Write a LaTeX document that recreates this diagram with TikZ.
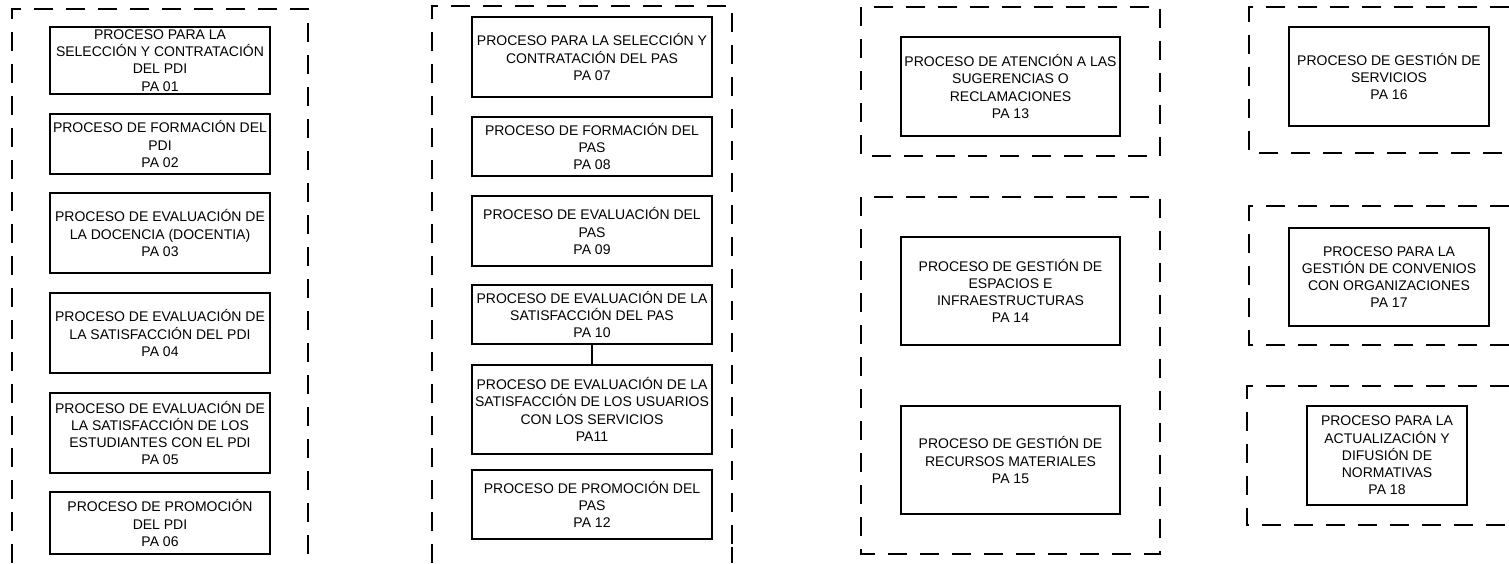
\documentclass[tikz,border=0pt]{standalone}
\usepackage{fontspec}
\setmainfont{Liberation Sans}

\begin{document}
\begin{tikzpicture}[x=1pt,y=-1pt,
    proc/.style={draw,line width=1.3pt,fill=white,align=center,inner sep=0pt,
      font=\fontsize{14}{17.2}\selectfont},
    frame/.style={line width=2.6pt,dash pattern=on 19pt off 13pt}]
  \useasboundingbox (0,0) rectangle (1509,563);
  % dashed groups
  \draw[frame] (12,563)--(12,9)--(308,9)--(308,563);
  \draw[frame] (432,563)--(432,6)--(732,6)--(732,547);
  \draw[line width=1.3pt] (732,547)--(732,563);
  \draw[frame] (861,7) rectangle (1160,156);
  \draw[frame] (861,197) rectangle (1160,554);
  \draw[frame] (1509,7)--(1249,7)--(1249,153)--(1509,153);
  \draw[frame] (1509,206)--(1249,206)--(1249,345)--(1509,345);
  \draw[frame] (1509,386)--(1247,386)--(1247,525)--(1509,525);
  % PDI
  \node[proc,minimum width=220,minimum height=67] (pa01) at (160,60.5)
    {PROCESO PARA LA\\SELECCIÓN Y CONTRATACIÓN\\DEL PDI\\PA 01};
  \node[proc,minimum width=220,minimum height=60] (pa02) at (160,144)
    {PROCESO DE FORMACIÓN DEL\\PDI\\PA 02};
  \node[proc,minimum width=220,minimum height=80] (pa03) at (160,233)
    {PROCESO DE EVALUACIÓN DE\\LA DOCENCIA (DOCENTIA)\\PA 03};
  \node[proc,minimum width=220,minimum height=80] (pa04) at (160,333)
    {PROCESO DE EVALUACIÓN DE\\LA SATISFACCIÓN DEL PDI\\PA 04};
  \node[proc,minimum width=220,minimum height=80] (pa05) at (160,433)
    {PROCESO DE EVALUACIÓN DE\\LA SATISFACCIÓN DE LOS\\ESTUDIANTES CON EL PDI\\PA 05};
  \node[proc,minimum width=220,minimum height=62] (pa06) at (160,523)
    {PROCESO DE PROMOCIÓN\\DEL PDI\\PA 06};
  % PAS
  \node[proc,minimum width=240,minimum height=80] (pa07) at (592,57)
    {PROCESO PARA LA SELECCIÓN Y\\CONTRATACIÓN DEL PAS\\PA 07};
  \node[proc,minimum width=240,minimum height=59] (pa08) at (592,146.5)
    {PROCESO DE FORMACIÓN DEL\\PAS\\PA 08};
  \node[proc,minimum width=240,minimum height=70] (pa09) at (592,231)
    {PROCESO DE EVALUACIÓN DEL\\PAS\\PA 09};
  \node[proc,minimum width=240,minimum height=59] (pa10) at (592,314.5)
    {PROCESO DE EVALUACIÓN DE LA\\SATISFACCIÓN DEL PAS\\PA 10};
  \node[proc,minimum width=240,minimum height=89] (pa11) at (592,409.5)
    {PROCESO DE EVALUACIÓN DE LA\\SATISFACCIÓN DE LOS USUARIOS\\CON LOS SERVICIOS\\PA11};
  \node[proc,minimum width=240,minimum height=69] (pa12) at (592,504.5)
    {PROCESO DE PROMOCIÓN DEL\\PAS\\PA 12};
  \draw[line width=1.3pt] (pa10)--(pa11);
  % otros
  \node[proc,minimum width=219,minimum height=99] (pa13) at (1010.5,86.5)
    {PROCESO DE ATENCIÓN A LAS\\SUGERENCIAS O\\RECLAMACIONES\\PA 13};
  \node[proc,minimum width=219,minimum height=108] (pa14) at (1010.5,291)
    {PROCESO DE GESTIÓN DE\\ESPACIOS E\\INFRAESTRUCTURAS\\PA 14};
  \node[proc,minimum width=219,minimum height=108] (pa15) at (1010.5,460)
    {PROCESO DE GESTIÓN DE\\RECURSOS MATERIALES\\PA 15};
  \node[proc,minimum width=200,minimum height=99] (pa16) at (1389,76.5)
    {PROCESO DE GESTIÓN DE\\SERVICIOS\\PA 16};
  \node[proc,minimum width=200,minimum height=98] (pa17) at (1389,277)
    {PROCESO PARA LA\\GESTIÓN DE CONVENIOS\\CON ORGANIZACIONES\\PA 17};
  \node[proc,minimum width=160,minimum height=99] (pa18) at (1387,455.5)
    {PROCESO PARA LA\\ACTUALIZACIÓN Y\\DIFUSIÓN DE\\NORMATIVAS\\PA 18};
\end{tikzpicture}
\end{document}
